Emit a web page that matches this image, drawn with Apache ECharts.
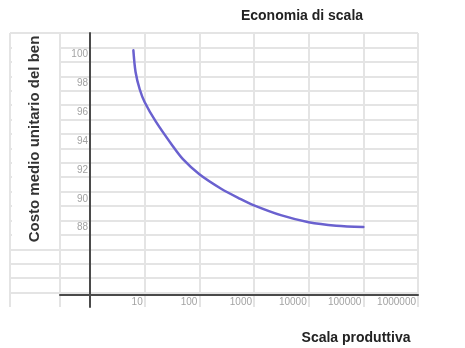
<!DOCTYPE html>
<html>
<head>
<meta charset="utf-8">
<script src="https://cdn.jsdelivr.net/npm/echarts@6/dist/echarts.min.js"></script>
<style>
  html, body { margin: 0; padding: 0; background: #fff; }
  #main { width: 465px; height: 348px; }
</style>
</head>
<body>
<div id="main"></div>
<script>
// dati
var scaleValues = [6.2, 6.8, 8.1, 10, 16, 32, 50, 100, 250, 560, 1000, 3200, 10000, 32000, 100000];
var unitCost = [100.3, 98.8, 97.6, 96.7, 95.35, 93.7, 92.75, 91.7, 90.7, 90.0, 89.55, 88.85, 88.38, 88.14, 88.05];
var xTickExponents = [1, 2, 3, 4, 5, 6];
var yTickValues = [88, 90, 92, 94, 96, 98, 100];

var gridColor = "#e4e4e4";
var axisColor = "#4a4a4a";
var labelColor = "#a3a3a3";

var lineData = scaleValues.map(function (s, i) {
  return [Math.log10(s), unitCost[i]];
});

var myChart = echarts.init(document.getElementById("main"));
myChart.setOption({
  backgroundColor: "#fff",
  animation: false,
  grid: [
    { left: 60, right: 47, top: 33, bottom: 41 },
    { left: 10, width: 50, top: 33, bottom: 41 }
  ],
  xAxis: [
    {
      type: "value",
      gridIndex: 0,
      min: -0.55,
      max: 6,
      offset: -12.5,
      axisLine: { lineStyle: { color: axisColor, width: 2 } },
      axisTick: { show: false, customValues: [-0.55].concat(xTickExponents) },
      axisLabel: {
        customValues: xTickExponents,
        formatter: function (v) { return String(Math.pow(10, v)); },
        align: "right",
        padding: [0, 2, 0, 0],
        margin: 3,
        color: labelColor,
        fontSize: 10,
        fontFamily: "Liberation Sans"
      },
      splitLine: { show: true, lineStyle: { color: gridColor, width: 2 } }
    },
    {
      type: "value",
      gridIndex: 1,
      min: 0,
      max: 1,
      interval: 1,
      axisLine: { show: false },
      axisTick: { show: false },
      axisLabel: { show: false },
      splitLine: { show: true, lineStyle: { color: gridColor, width: 2 } }
    }
  ],
  yAxis: [
    {
      type: "value",
      gridIndex: 0,
      min: 82.5,
      max: 101.5,
      interval: 1,
      offset: -30,
      axisLine: { show: true, lineStyle: { color: axisColor, width: 2 } },
      axisTick: { show: false },
      axisLabel: {
        customValues: yTickValues,
        margin: 2,
        color: labelColor,
        fontSize: 10,
        fontFamily: "Liberation Sans"
      },
      splitLine: { show: true, showMinLine: false, lineStyle: { color: gridColor, width: 2 } }
    },
    {
      type: "value",
      gridIndex: 1,
      min: 82.5,
      max: 101.5,
      interval: 1,
      axisLine: { show: false },
      axisTick: { show: false },
      axisLabel: { show: false },
      splitLine: { show: true, showMinLine: false, lineStyle: { color: gridColor, width: 2 } }
    }
  ],
  graphic: [
    {
      type: "rect",
      z: 50,
      shape: { x: 12, y: 34, width: 47, height: 212 },
      style: { fill: "#fff" }
    },
    {
      type: "text",
      z: 60,
      x: 35,
      y: 139,
      rotation: Math.PI / 2,
      style: {
        text: "Costo medio unitario del ben",
        fill: "#333",
        font: "bold 15px 'Liberation Sans'",
        align: "center",
        verticalAlign: "middle"
      }
    },
    {
      type: "text",
      z: 60,
      x: 302,
      y: 16,
      style: {
        text: "Economia di scala",
        fill: "#222",
        font: "bold 14px 'Liberation Sans'",
        align: "center",
        verticalAlign: "middle"
      }
    },
    {
      type: "text",
      z: 60,
      x: 356,
      y: 338,
      style: {
        text: "Scala produttiva",
        fill: "#222",
        font: "bold 14px 'Liberation Sans'",
        align: "center",
        verticalAlign: "middle"
      }
    }
  ],
  series: [
    {
      type: "line",
      xAxisIndex: 0,
      yAxisIndex: 0,
      data: lineData,
      smooth: 0.3,
      showSymbol: false,
      lineStyle: { color: "#6a61cf", width: 2.5, cap: "round" }
    }
  ]
});
</script>
</body>
</html>
